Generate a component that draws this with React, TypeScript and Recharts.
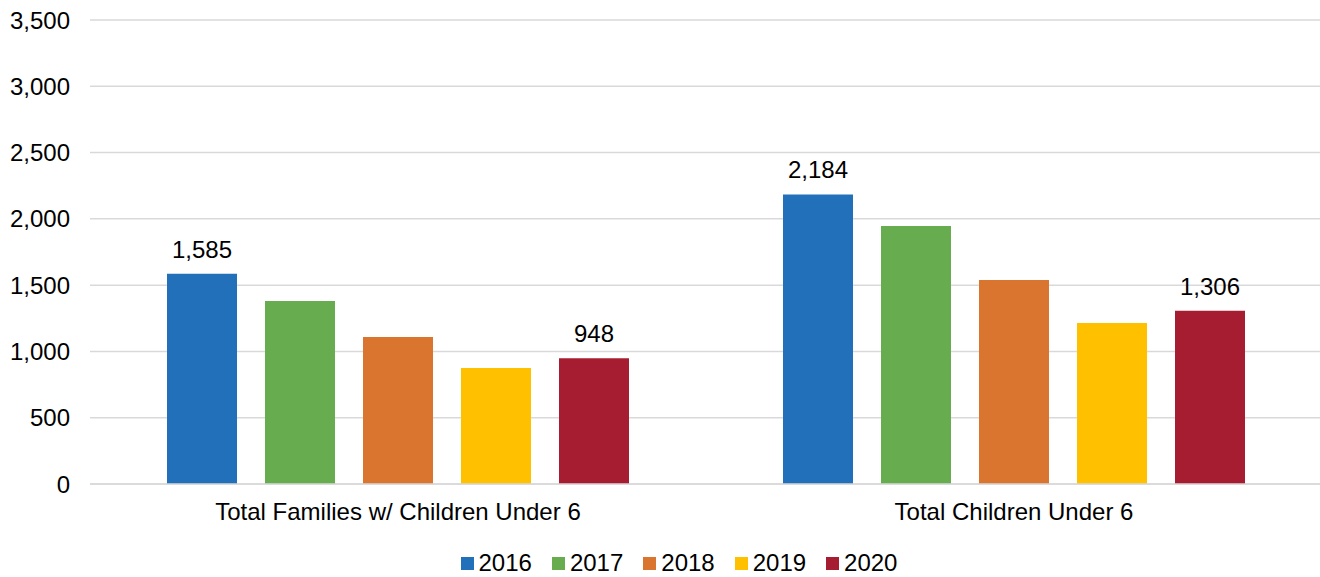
import { BarChart, Bar, XAxis, YAxis, CartesianGrid, Legend, LabelList } from "recharts";

const categories = ["Total Families w/ Children Under 6", "Total Children Under 6"];
const years = ["2016", "2017", "2018", "2019", "2020"];
const values2016 = [1585, 2184];
const values2017 = [1380, 1946];
const values2018 = [1109, 1539];
const values2019 = [875, 1214];
const values2020 = [948, 1306];
const yTicks = [0, 500, 1000, 1500, 2000, 2500, 3000, 3500];

const colors = ["#2270B9", "#67AD50", "#D9752E", "#FFC000", "#A61C30"];
const series = [values2016, values2017, values2018, values2019, values2020];
const labelled = ["2016", "2020"];

const data = categories.map((name, i) => {
  const row: Record<string, string | number> = { name };
  years.forEach((y, j) => {
    row[y] = series[j][i];
  });
  return row;
});

const font = '"Liberation Sans", Arial, sans-serif';
const fmt = (v: number) => v.toLocaleString("en-US");

function LegendContent() {
  return (
    <div
      style={{
        display: "flex",
        justifyContent: "center",
        height: 38,
        boxSizing: "border-box",
        paddingTop: 10,
        paddingLeft: 36,
        fontFamily: font,
        fontSize: 24,
        lineHeight: "28px",
        color: "#000",
      }}
    >
      {years.map((y, i) => (
        <div key={y} style={{ display: "flex", alignItems: "center", marginRight: i < years.length - 1 ? 20 : 0 }}>
          <span style={{ width: 13, height: 13, background: colors[i], marginRight: 5, display: "inline-block" }} />
          <span>{y}</span>
        </div>
      ))}
    </div>
  );
}

export default function App() {
  return (
    <div style={{ position: "absolute", left: 0, top: 0, background: "#fff", fontFamily: font, width: 1320, overflow: "hidden" }}>
      <BarChart
        width={1322}
        height={577}
        data={data}
        margin={{ top: 20, right: 0, bottom: 0, left: 0 }}
        barCategoryGap={77}
        barGap={28}
      >
        <CartesianGrid vertical={false} stroke="#d9d9d9" strokeWidth={1.5} />
        <XAxis
          dataKey="name"
          height={55}
          axisLine={{ stroke: "#d9d9d9", strokeWidth: 1.5 }}
          tickLine={false}
          tickSize={0}
          tickMargin={19}
          tick={{ fill: "#000", fontSize: 24, fontFamily: font }}
        />
        <YAxis
          width={90}
          domain={[0, 3500]}
          ticks={yTicks}
          axisLine={false}
          tickLine={false}
          tickSize={0}
          tickMargin={20}
          tickFormatter={fmt}
          tick={{ fill: "#000", fontSize: 24, fontFamily: font }}
        />
        <Legend verticalAlign="bottom" content={<LegendContent />} />
        {years.map((y, i) => (
          <Bar key={y} dataKey={y} fill={colors[i]} isAnimationActive={false}>
            {labelled.includes(y) && (
              <LabelList
                dataKey={y}
                position="top"
                offset={16}
                formatter={(v: number) => fmt(v)}
                style={{ fill: "#000", fontSize: 24, fontFamily: font }}
              />
            )}
          </Bar>
        ))}
      </BarChart>
    </div>
  );
}
